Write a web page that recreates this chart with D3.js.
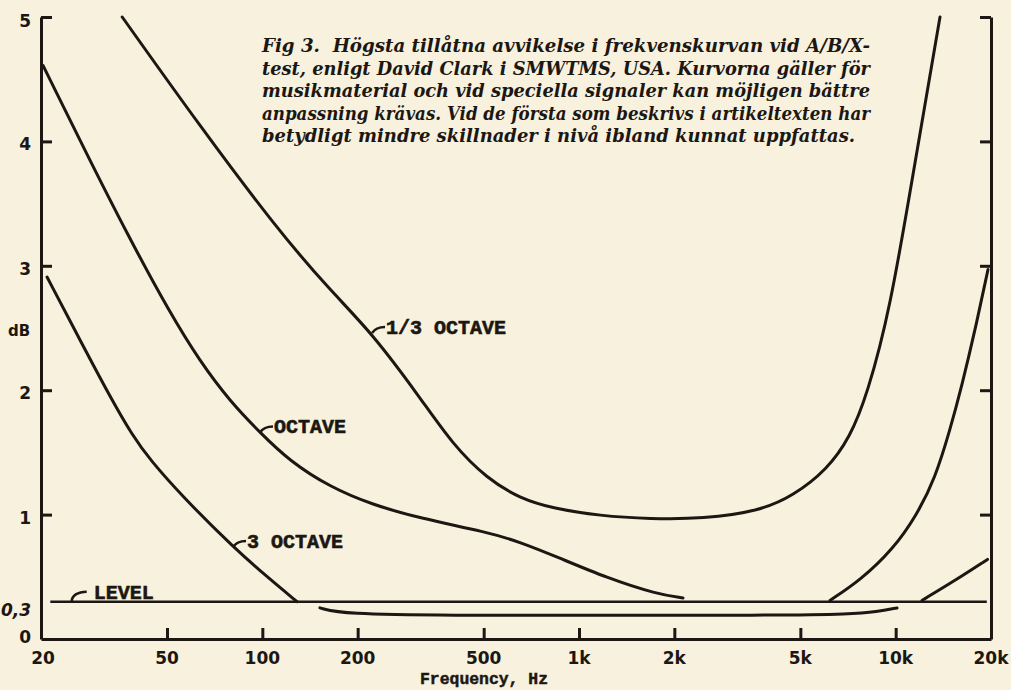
<!DOCTYPE html>
<html>
<head>
<meta charset="utf-8">
<script src="https://cdn.jsdelivr.net/npm/d3@7"></script>
<style>
  body { margin: 0; background: #f7f1de; }
  svg { display: block; }
</style>
</head>
<body>
<script>
// [frequency Hz, max deviation dB]
var thirdOctave = [[36.1, 5.0], [63.6, 4.12], [111, 3.3], [164, 2.8], [222, 2.46], [315, 1.94],
  [400, 1.56], [512, 1.29], [651, 1.13], [828, 1.05], [1165, 0.99], [1676, 0.965], [2464, 0.965],
  [3728, 1.03], [4740, 1.15], [6068, 1.36], [7172, 1.62], [8118, 1.96], [9594, 2.64],
  [11508, 3.83], [13804, 5.0]];
var octaveLow = [[20.3, 4.61], [27.5, 3.93], [37.7, 3.24], [51.1, 2.62], [63.6, 2.23], [79.1, 1.91],
  [98.3, 1.66], [122, 1.43], [164, 1.22], [222, 1.08], [315, 0.97], [512, 0.86], [651, 0.78],
  [852, 0.66], [1226, 0.49], [1764, 0.36], [2130, 0.33]];
var octaveHigh = [[6202, 0.31], [7716, 0.47], [9806, 0.72], [11678, 1.0], [13312, 1.29],
  [14844, 1.68], [16194, 2.04], [17804, 2.48], [19568, 2.97]];
var threeOctaveLow = [[20.9, 2.91], [26.6, 2.4], [33, 1.95], [39, 1.63], [44.2, 1.44], [56.2, 1.14],
  [80.8, 0.74], [103.4, 0.5], [128.7, 0.3]];
var threeOctaveMid = [[152, 0.25], [180, 0.2], [400, 0.19], [1000, 0.19], [4000, 0.19],
  [7330, 0.2], [8700, 0.22], [10100, 0.25]];
var threeOctaveHigh = [[12100, 0.31], [15400, 0.47], [19500, 0.64]];
var levelLine = [[21.4, 0.3], [19400, 0.3]];

var xTicks = [50, 100, 200, 500, 1000, 2000, 5000, 10000];
var xLabelValues = [20, 50, 100, 200, 500, 1000, 2000, 5000, 10000, 20000];
var xLabels = ["20", "50", "100", "200", "500", "1k", "2k", "5k", "10k", "20k"];
var yTicks = [1, 2, 3, 4, 5];
var yLabelValues = [0, 0.3, 1, 2, 3, 4, 5];
var yLabels = ["0", "0,3", "1", "2", "3", "4", "5"];

var curveNames = ["1/3 OCTAVE", "OCTAVE", "3 OCTAVE", "LEVEL"];
var curveNameFreq = [222, 98.3, 80.8, 25];
var curveNameDb = [2.46, 1.66, 0.74, 0.3];

var caption = [
  "Fig 3.  Högsta tillåtna avvikelse i frekvenskurvan vid A/B/X-",
  "test, enligt David Clark i SMWTMS, USA. Kurvorna gäller för",
  "musikmaterial och vid speciella signaler kan möjligen bättre",
  "anpassning krävas. Vid de första som beskrivs i artikeltexten har",
  "betydligt mindre skillnader i nivå ibland kunnat uppfattas."
];

var width = 1011, height = 690;
var ink = "#1c1712";

var x = d3.scaleLog().domain([20, 20000]).range([41, 991]);
var y = d3.scaleLinear().domain([0, 5]).range([639, 17]);

var svg = d3.select("body").append("svg")
  .attr("width", width)
  .attr("height", height);

// axes, ticks pointing inwards
svg.append("g")
  .attr("transform", "translate(0," + y(0) + ")")
  .call(d3.axisTop(x).tickValues(xTicks).tickSize(11).tickSizeOuter(0).tickFormat(""));
svg.append("g")
  .attr("transform", "translate(" + x(20) + ",0)")
  .call(d3.axisRight(y).tickValues(yTicks).tickSize(11).tickSizeOuter(0).tickFormat(""));
svg.append("g")
  .attr("transform", "translate(" + x(20000) + ",0)")
  .call(d3.axisLeft(y).tickValues(yTicks).tickSize(11).tickSizeOuter(0).tickFormat(""));

svg.selectAll(".domain, .tick line")
  .attr("stroke", ink)
  .attr("stroke-width", 3);

// tick labels
svg.append("g").selectAll("text")
  .data(xLabelValues)
  .enter().append("text")
  .attr("x", function(d) { return x(d) + (d == 20 ? 2 : 0); })
  .attr("y", 664)
  .attr("text-anchor", "middle")
  .attr("font-family", "DejaVu Sans")
  .attr("font-weight", "bold")
  .attr("font-size", 17)
  .attr("fill", ink)
  .text(function(d, i) { return xLabels[i]; });

svg.append("g").selectAll("text")
  .data(yLabelValues)
  .enter().append("text")
  .attr("x", 31)
  .attr("y", function(d) {
    if (d == 0) return y(d) + 4;
    if (d == 0.3) return y(d) + 14;
    if (d == 5) return y(d) + 10;
    return y(d) + 9;
  })
  .attr("text-anchor", "end")
  .attr("font-family", "DejaVu Sans")
  .attr("font-weight", "bold")
  .attr("font-size", 17)
  .attr("font-style", function(d) { return d == 0.3 ? "italic" : "normal"; })
  .attr("fill", ink)
  .text(function(d, i) { return yLabels[i]; });

svg.append("text")
  .attr("x", 19)
  .attr("y", 336)
  .attr("text-anchor", "middle")
  .attr("font-family", "DejaVu Sans")
  .attr("font-weight", "bold")
  .attr("font-size", 15)
  .attr("fill", ink)
  .text("dB");

svg.append("text")
  .attr("x", 484)
  .attr("y", 684)
  .attr("text-anchor", "middle")
  .attr("textLength", 128)
  .attr("lengthAdjust", "spacingAndGlyphs")
  .attr("font-family", "Liberation Mono")
  .attr("font-weight", "bold")
  .attr("font-size", 17)
  .attr("stroke", ink)
  .attr("stroke-width", 0.5)
  .attr("fill", ink)
  .text("Frequency, Hz");

// curves (smoothed like the hand-drawn original)
var line = d3.line()
  .x(function(d) { return x(d[0]); })
  .y(function(d) { return y(d[1]); })
  .curve(d3.curveBasis);

var series = [thirdOctave, octaveLow, octaveHigh, threeOctaveLow, threeOctaveMid, threeOctaveHigh];

svg.append("g").selectAll("path")
  .data(series)
  .enter().append("path")
  .attr("d", line)
  .attr("fill", "none")
  .attr("stroke", ink)
  .attr("stroke-width", 3)
  .attr("stroke-linecap", "round");

svg.append("path")
  .attr("d", d3.line().x(function(d) { return x(d[0]); }).y(function(d) { return y(d[1]); })(levelLine))
  .attr("fill", "none")
  .attr("stroke", ink)
  .attr("stroke-width", 2.6);

// curve names with little hooks
var names = svg.append("g").selectAll("g")
  .data(curveNames)
  .enter().append("g")
  .attr("transform", function(d, i) {
    return "translate(" + x(curveNameFreq[i]) + "," + y(curveNameDb[i]) + ")";
  });

names.append("path")
  .attr("d", function(d) {
    return d == "LEVEL" ? "M0,0 C0,-6 6,-10 15,-10" : "M0,0 Q4,-6 13,-6";
  })
  .attr("fill", "none")
  .attr("stroke", ink)
  .attr("stroke-width", 2.6);

names.append("text")
  .attr("x", function(d) { return d == "LEVEL" ? 22 : 14; })
  .attr("y", function(d) { return d == "LEVEL" ? -3 : 1; })
  .attr("font-family", "Liberation Mono")
  .attr("font-weight", "bold")
  .attr("font-size", 20)
  .attr("stroke", ink)
  .attr("stroke-width", 0.6)
  .attr("fill", ink)
  .text(function(d) { return d; });

// caption
svg.append("g").selectAll("text")
  .data(caption)
  .enter().append("text")
  .attr("x", 262)
  .attr("y", function(d, i) { return 52 + i * 22.5; })
  .attr("textLength", function(d, i) { return i == 4 ? 593 : 608; })
  .attr("lengthAdjust", "spacingAndGlyphs")
  .style("white-space", "pre")
  .attr("font-family", "DejaVu Serif")
  .attr("font-style", "italic")
  .attr("font-weight", "bold")
  .attr("font-size", 19)
  .attr("fill", ink)
  .text(function(d) { return d; });
</script>
</body>
</html>
